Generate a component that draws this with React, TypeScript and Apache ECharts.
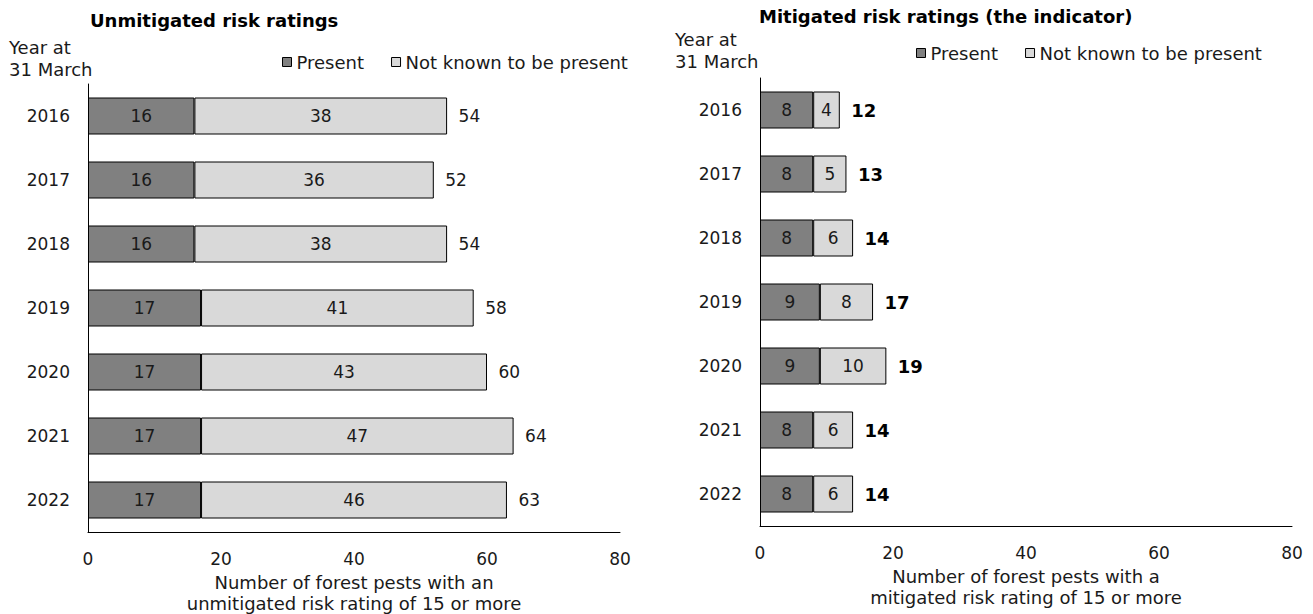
import React, { useEffect, useRef } from "react";
import * as echarts from "echarts";

const years = ["2016", "2017", "2018", "2019", "2020", "2021", "2022"];
const unmitigatedPresent = [16, 16, 16, 17, 17, 17, 17];
const unmitigatedNotKnown = [38, 36, 38, 41, 43, 47, 46];
const unmitigatedTotals = [54, 52, 54, 58, 60, 64, 63];
const mitigatedPresent = [8, 8, 8, 9, 9, 8, 8];
const mitigatedNotKnown = [4, 5, 6, 8, 10, 6, 6];
const mitigatedTotals = [12, 13, 14, 17, 19, 14, 14];
const xTicks = [0, 20, 40, 60, 80];

const FONT = "'DejaVu Sans', Verdana, sans-serif";
const TXT = "#1a1a1a";
const DARK = "#808080";
const LIGHT = "#d9d9d9";
const NUM = 17;
const WORD = 18;

export default function App() {
  const ref = useRef<HTMLDivElement>(null);
  useEffect(() => {
    document.body.style.margin = "0";
    const chart = echarts.init(ref.current!, null, { renderer: "svg" });
    const xAxisBase = (gridIndex: number, name: string) => ({
      type: "value",
      gridIndex,
      min: xTicks[0],
      max: xTicks[xTicks.length - 1],
      interval: 20,
      splitLine: { show: false },
      axisTick: { show: false },
      axisLine: { show: true, lineStyle: { color: "#000", width: 1 } },
      axisLabel: { color: TXT, fontSize: NUM, fontFamily: FONT, margin: 18 },
      name,
      nameLocation: "middle",
      nameGap: 39,
      nameTextStyle: { color: TXT, fontSize: WORD, fontFamily: FONT, lineHeight: 21 },
    });
    const yAxisBase = (gridIndex: number, margin: number) => ({
      type: "category",
      gridIndex,
      data: years,
      inverse: true,
      axisTick: { show: false },
      axisLine: { show: true, lineStyle: { color: "#000", width: 1 } },
      axisLabel: { color: TXT, fontSize: NUM, fontFamily: FONT, margin },
    });
    const barSeries = (
      name: string,
      data: number[],
      color: string,
      idx: number,
      stack: string,
      barWidth: number
    ) => ({
      type: "bar",
      name,
      data,
      stack,
      xAxisIndex: idx,
      yAxisIndex: idx,
      barWidth,
      itemStyle: { color, borderColor: "#000", borderWidth: 1 },
      label: {
        show: true,
        position: "inside",
        color: TXT,
        fontSize: NUM,
        fontFamily: FONT,
      },
    });
    const totalSeries = (totals: number[], idx: number, bold: boolean) => ({
      type: "scatter",
      name: "total" + idx,
      xAxisIndex: idx,
      yAxisIndex: idx,
      data: totals.map((t, i) => [t, years[i]]),
      symbolSize: 1,
      itemStyle: { color: "rgba(0,0,0,0)", opacity: 1 },
      silent: true,
      label: {
        show: true,
        position: "right",
        distance: 11,
        formatter: (p: any) => String(p.value[0]),
        color: bold ? "#000" : TXT,
        fontSize: bold ? 18 : NUM,
        fontWeight: bold ? "bold" : "normal",
        fontFamily: FONT,
      },
    });
    const legendBase = (left: number, top: number) => ({
      left,
      top,
      data: ["Present", "Not known to be present"],
      icon: "rect",
      itemWidth: 9,
      itemHeight: 9,
      itemGap: 27,
      itemStyle: { borderColor: "#000", borderWidth: 1 },
      textStyle: { color: TXT, fontSize: WORD, fontFamily: FONT },
      selectedMode: false,
    });
    chart.setOption({
      animation: false,
      backgroundColor: "#fff",
      title: [
        {
          text: "Unmitigated risk ratings",
          left: 85,
          top: 6,
          textStyle: { fontSize: 18, fontWeight: "bold", color: "#000", fontFamily: FONT },
        },
        {
          text: "Mitigated risk ratings (the indicator)",
          left: 754,
          top: 2,
          textStyle: { fontSize: 18, fontWeight: "bold", color: "#000", fontFamily: FONT },
        },
      ],
      legend: [legendBase(277, 48), legendBase(911, 39)],
      graphic: [
        {
          type: "text",
          left: 9,
          top: 37,
          style: { text: "Year at\n31 March", fill: TXT, fontSize: WORD, fontFamily: FONT, lineHeight: 21.5 },
        },
        {
          type: "text",
          left: 675,
          top: 29,
          style: { text: "Year at\n31 March", fill: TXT, fontSize: WORD, fontFamily: FONT, lineHeight: 21.5 },
        },
      ],
      grid: [
        { left: 88, width: 532, top: 84, height: 448, containLabel: false, outerBoundsMode: "none" },
        { left: 760, width: 532, top: 78, height: 448, containLabel: false, outerBoundsMode: "none" },
      ],
      xAxis: [
        xAxisBase(0, "Number of forest pests with an\nunmitigated risk rating of 15 or more"),
        xAxisBase(1, "Number of forest pests with a\nmitigated risk rating of 15 or more"),
      ],
      yAxis: [yAxisBase(0, 18), yAxisBase(1, 18)],
      series: [
        barSeries("Present", unmitigatedPresent, DARK, 0, "u", 37),
        barSeries("Not known to be present", unmitigatedNotKnown, LIGHT, 0, "u", 37),
        totalSeries(unmitigatedTotals, 0, false),
        barSeries("Present", mitigatedPresent, DARK, 1, "m", 37),
        barSeries("Not known to be present", mitigatedNotKnown, LIGHT, 1, "m", 37),
        totalSeries(mitigatedTotals, 1, true),
      ],
    });
    return () => chart.dispose();
  }, []);
  return <div ref={ref} style={{ width: 1313, height: 614 }} />;
}
